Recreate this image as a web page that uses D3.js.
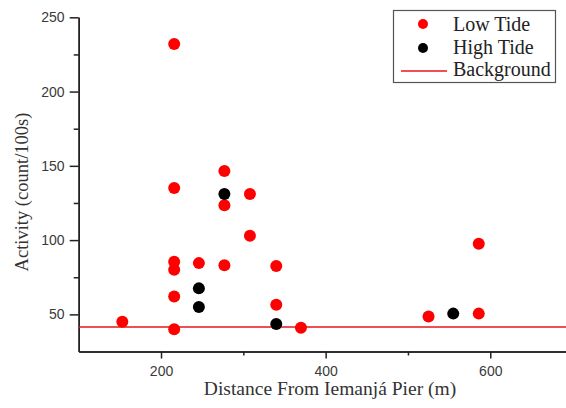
<!DOCTYPE html>
<meta charset="utf-8">
<style>
body { margin: 0; background: #fff; }
.axis path, .axis line { stroke: #222; stroke-width: 1.5px; }
.axis text { font-family: "Liberation Sans", Arial, sans-serif; font-size: 14px; fill: #3a3a3a; }
.title { font-family: "Liberation Serif", "Times New Roman", serif; fill: #333; }
.legend text { font-family: "Liberation Serif", "Times New Roman", serif; font-size: 20px; fill: #222; }
</style>
<div id="chart"></div>
<script src="https://d3js.org/d3.v7.min.js"></script>
<script>
var w = 566, h = 408;

// Low tide measurements [distance m, activity]
var lowTide = [
  [153, 45], [216, 232], [216, 135], [216, 85.5], [216, 80], [216, 62], [216, 40],
  [246, 84.5], [277, 146.5], [277, 123.5], [277, 83], [308, 131], [308, 103],
  [340, 82.5], [340, 56.5], [370, 41], [525, 48.5], [586, 97.5], [586, 50.5]
];
var highTide = [
  [246, 67.5], [246, 55], [277, 131], [340, 43.5], [555, 50.5]
];
var background = 41.5;
var legendLabels = ["Low Tide", "High Tide", "Background"];

var svg = d3.select("#chart").append("svg")
  .attr("width", w).attr("height", h);

var x = d3.scaleLinear().domain([100, 700]).range([78.7, 572.6]),
    y = d3.scaleLinear().domain([25, 250]).range([351.5, 17.3]);

var xAxis = d3.axisBottom(x).tickValues([200, 400, 600]).tickSize(7).tickSizeOuter(0),
    yAxis = d3.axisLeft(y).tickValues([50, 100, 150, 200, 250]).tickSize(9).tickSizeOuter(0);

// minor ticks
svg.append("g").attr("class", "axis")
  .attr("transform", "translate(0," + y(25) + ")")
  .call(d3.axisBottom(x).tickValues([300, 500]).tickSize(4).tickSizeOuter(0).tickFormat(""));
svg.append("g").attr("class", "axis")
  .attr("transform", "translate(" + x(100) + ",0)")
  .call(d3.axisLeft(y).tickValues([75, 125, 175, 225]).tickSize(5).tickSizeOuter(0).tickFormat(""));

svg.append("g").attr("class", "axis")
  .attr("transform", "translate(0," + y(25) + ")")
  .call(xAxis)
  .selectAll("text").attr("dy", "1.05em");

svg.append("g").attr("class", "axis")
  .attr("transform", "translate(" + x(100) + ",0)")
  .call(yAxis)
  .selectAll("text").attr("dx", "-0.15em");

// background line
svg.append("line")
  .attr("x1", x(100)).attr("x2", w)
  .attr("y1", y(background)).attr("y2", y(background))
  .attr("stroke", "#e8141b").attr("stroke-width", 1.5);

svg.selectAll(".low").data(lowTide).enter().append("circle")
  .attr("class", "low")
  .attr("cx", function (d) { return x(d[0]); })
  .attr("cy", function (d) { return y(d[1]); })
  .attr("r", 6).attr("fill", "#f00");

svg.selectAll(".high").data(highTide).enter().append("circle")
  .attr("class", "high")
  .attr("cx", function (d) { return x(d[0]); })
  .attr("cy", function (d) { return y(d[1]); })
  .attr("r", 6).attr("fill", "#000");

// axis titles
svg.append("text").attr("class", "title")
  .attr("x", 330).attr("y", 395).attr("text-anchor", "middle")
  .style("font-size", "19.5px")
  .text("Distance From Iemanjá Pier (m)");
svg.append("text").attr("class", "title")
  .attr("transform", "translate(28,192) rotate(-90)")
  .attr("text-anchor", "middle")
  .style("font-size", "18.5px")
  .text("Activity (count/100s)");

// legend
var lg = svg.append("g").attr("class", "legend");
lg.append("rect").attr("x", 393.5).attr("y", 10.5).attr("width", 162).attr("height", 72)
  .attr("fill", "#fff").attr("stroke", "#555").attr("stroke-width", 1.2);
lg.append("circle").attr("cx", 423).attr("cy", 24).attr("r", 5).attr("fill", "#f00");
lg.append("circle").attr("cx", 423).attr("cy", 48).attr("r", 5).attr("fill", "#000");
lg.append("line").attr("x1", 401).attr("x2", 447).attr("y1", 71).attr("y2", 71)
  .attr("stroke", "#e8141b").attr("stroke-width", 1.5);
lg.selectAll("text").data(legendLabels).enter().append("text")
  .attr("x", 453).attr("y", function (d, i) { return 31 + i * 22.5; })
  .text(function (d) { return d; });
</script>
